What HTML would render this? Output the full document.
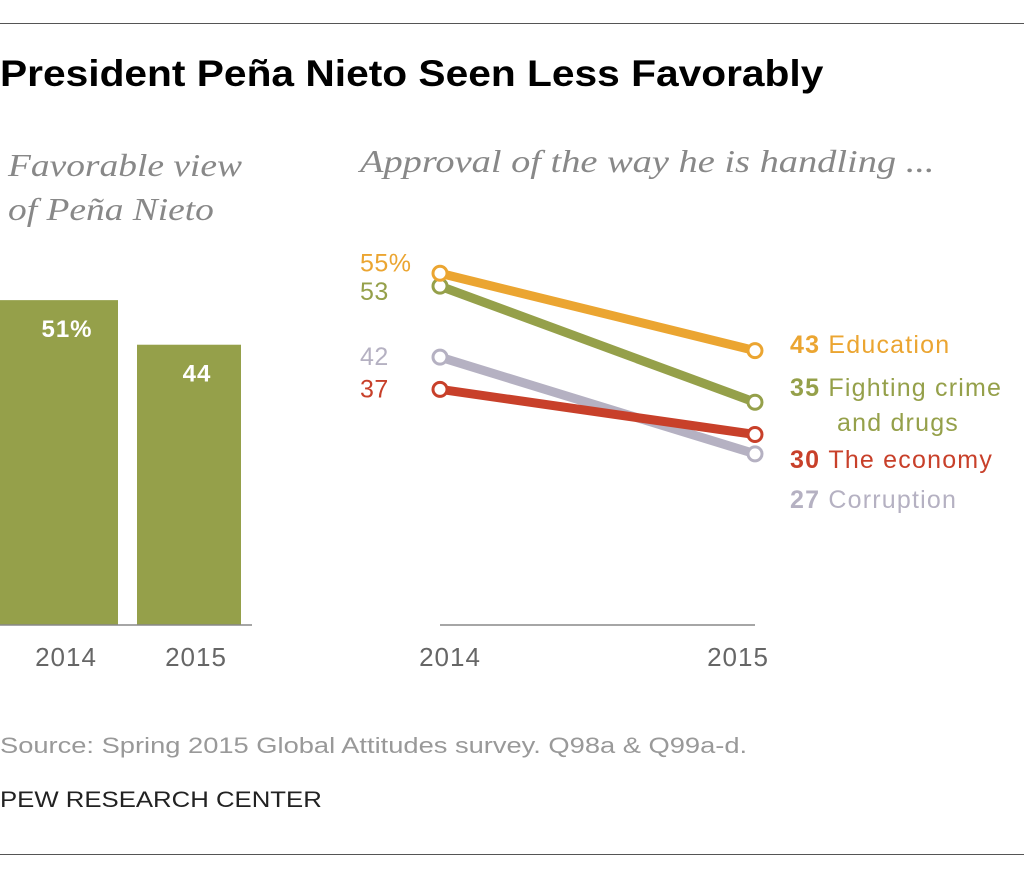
<!DOCTYPE html>
<html><head><meta charset="utf-8"><style>
body{margin:0;background:#fff;width:1024px;height:881px;overflow:hidden;position:relative;font-family:"Liberation Sans",sans-serif}
.a{position:absolute;white-space:nowrap;transform-origin:0 0}
.it{font-family:"Liberation Serif",serif;font-style:italic;color:#888;font-size:32px}
</style></head><body>
<div class="a" style="left:0;top:23px;width:1024px;height:1px;background:#555"></div>
<div class="a" style="left:0;top:53px;font-size:37px;font-weight:bold;color:#000;transform:scaleX(1.1)">President Peña Nieto Seen Less Favorably</div>
<div class="a it" style="left:8px;top:143px;line-height:44px;transform:scaleX(1.17)">Favorable view<br>of Peña Nieto</div>
<div class="a it" style="left:360px;top:143px;transform:scaleX(1.2)">Approval of the way he is handling ...</div>
<svg class="a" style="left:0;top:0" width="1024" height="881">
<g id="bars"></g><g id="lines"></g>
</svg>
<div class="a" style="left:0;top:733px;font-size:22px;color:#999;transform:scaleX(1.24)">Source: Spring 2015 Global Attitudes survey. Q98a &amp; Q99a-d.</div>
<div class="a" style="left:0;top:787px;font-size:22px;color:#222;transform:scaleX(1.17)">PEW RESEARCH CENTER</div>
<div class="a" style="left:0;top:854px;width:1024px;height:1px;background:#555"></div>
<script>
const barYears=["2014","2015"];
const barValues=[51,44];
const barLabels=["51%","44"];
const lineNames=["Education","Fighting crime","The economy","Corruption"];
const lineStart=[55,53,37,42];
const lineEnd=[43,35,30,27];
const startLabels=["55%","53","42","37"];
const lineYears=["2014","2015"];
const NS="http://www.w3.org/2000/svg";
function mk(t,a,p){const e=document.createElementNS(NS,t);for(const k in a)e.setAttribute(k,a[k]);p.appendChild(e);return e;}
const bg=document.getElementById('bars'),lg=document.getElementById('lines');
const by=v=>625-v*6.37;
const bx=[0,137],bw=[118,104];
barValues.forEach((v,i)=>{
 const r=mk('rect',{x:bx[i],y:by(v),width:bw[i],height:625-by(v),fill:'#95a04a'},bg);
 
 
 const t=mk('text',{x:bx[i]+bw[i]/2+8,y:by(v)+37,'text-anchor':'middle','font-size':24,'font-weight':'bold','letter-spacing':1,fill:'#fff'},bg);t.textContent=barLabels[i];
 
 
 const y=mk('text',{x:bx[i]+bw[i]/2+7,y:666,'text-anchor':'middle','font-size':26,'letter-spacing':1,fill:'#666'},bg);y.textContent=barYears[i];
 
 
});
const ba=mk('line',{x1:0,x2:252,y1:625,y2:625,stroke:'#888','stroke-width':1.5},bg);


const ly=v=>628-v*6.45, x0=440,x1=755;
const cols=["#eba531","#95a04a","#c8402a","#b5b1c2"];
const la=mk('line',{x1:x0,x2:x1,y1:625,y2:625,stroke:'#888','stroke-width':1.5},lg);


[0,1].forEach(i=>{const t=mk('text',{x:[x0,x1][i]+(i?-17:10),y:666,'text-anchor':'middle','font-size':26,'letter-spacing':1,fill:'#666'},lg);t.textContent=lineYears[i];
 
 });
const order=[3,2,1,0];
order.forEach(i=>{
 const l=mk('line',{x1:x0,y1:ly(lineStart[i]),x2:x1,y2:ly(lineEnd[i]),stroke:cols[i],'stroke-width':9},lg);
 
 
 [[x0,lineStart[i]],[x1,lineEnd[i]]].forEach(p=>{const c=mk('circle',{cx:p[0],cy:ly(p[1]),r:7,fill:'#fff',stroke:cols[i],'stroke-width':3},lg);
  
  });
});
const sortedIdx=[0,1,3,2];
sortedIdx.forEach((i,k)=>{
 let y=ly(lineStart[i])+8; if(i===0)y-=10; if(i===1)y+=6;
 const t=mk('text',{x:360,y:y,'font-size':25,'letter-spacing':0.5,fill:cols[i]},lg);t.textContent=startLabels[k];
 
 
});
const endY=[353,396,468,508];
lineNames.forEach((n,i)=>{
 const t=mk('text',{x:790,y:endY[i],'font-size':25,'letter-spacing':1.2,fill:cols[i]},lg);
 const b=mk('tspan',{'font-weight':'bold'},t);b.textContent=lineEnd[i]+' ';
 const s=mk('tspan',{},t);s.textContent=n;
 
 
});
const t2=mk('text',{x:837,y:431,'font-size':25,'letter-spacing':1.2,fill:cols[1]},lg);t2.textContent='and drugs';


</script>
</body></html>
